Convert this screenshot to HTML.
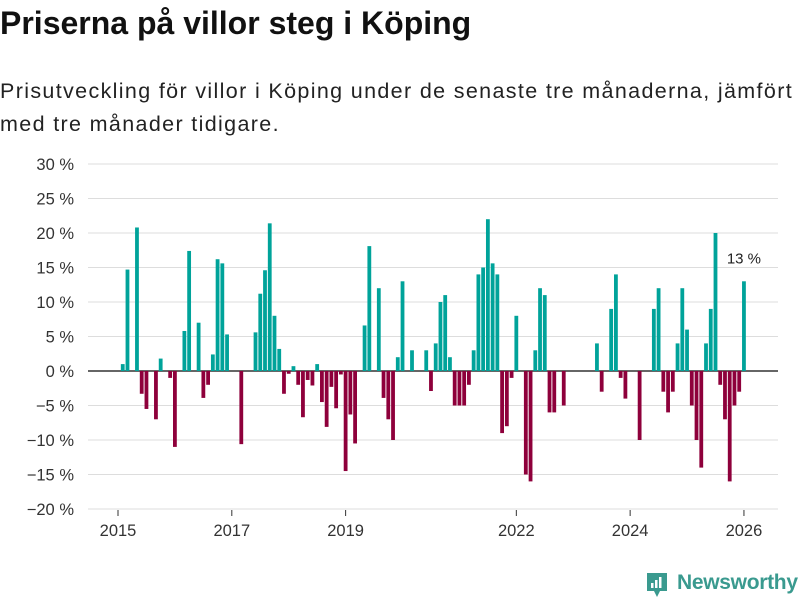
<!DOCTYPE html>
<html><head><meta charset="utf-8"><style>
body{margin:0;background:#fff;font-family:"Liberation Sans",sans-serif;}
#wrap{position:relative;width:800px;height:600px;overflow:hidden;}
h1{position:absolute;left:0;top:5px;margin:0;font-size:32px;font-weight:bold;color:#111;}
p.sub{position:absolute;left:0;top:75px;margin:0;font-size:21.5px;line-height:33px;color:#222;width:800px;letter-spacing:1.35px;white-space:nowrap;}
</style></head><body>
<div id="wrap">
<h1>Priserna på villor steg i Köping</h1>
<p class="sub">Prisutveckling för villor i Köping under de senaste tre månaderna, jämfört<br>med tre månader tidigare.</p>
<svg id="chart" width="800" height="600" style="position:absolute;left:0;top:0"></svg>
<div style="position:absolute;left:645px;top:571px;width:150px;height:28px;">
<svg width="24" height="28" style="position:absolute;left:0;top:0"><path d="M2 2h20v18h-7l-3 6-3-6H2z" fill="#3a9a8f"/><rect x="6" y="12" width="2.5" height="5" fill="#fff"/><rect x="10" y="9" width="2.5" height="8" fill="#fff"/><rect x="14" y="6" width="2.5" height="11" fill="#fff"/></svg>
<span style="position:absolute;left:32px;top:0;font-size:21px;color:#3a9a8f;font-weight:bold;letter-spacing:-0.3px">Newsworthy</span>
</div>
</div>
<script>
const yTicks=[30,25,20,15,10,5,0,-5,-10,-15,-20];
const xTickYears=[2015,2017,2019,2022,2024,2026];
const startYear=2015;
const values=[null,1,14.7,null,20.8,-3.3,-5.5,null,-7,1.8,null,-1,-11,null,5.8,17.4,null,7,-3.9,-2,2.4,16.2,15.6,5.3,null,null,-10.6,null,null,5.6,11.2,14.6,21.4,8,3.2,-3.3,-0.4,0.7,-2,-6.7,-1.3,-2.1,1,-4.5,-8.1,-2.3,-5.4,-0.5,-14.5,-6.3,-10.5,null,6.6,18.1,null,12,-3.9,-7,-10,2,13,null,3,null,null,3,-2.9,4,10,11,2,-5,-5,-5,-2,3,14,15,22,15.6,14,-9,-8,-1,8,null,-15,-16,3,12,11,-6,-6,null,-5,null,null,null,null,null,null,4,-3,null,9,14,-1,-4,null,null,-10,null,null,9,12,-3,-6,-3,4,12,6,-5,-10,-14,4,9,20,-2,-7,-16,-5,-3,13];
const lastLabel="13 %";
const svg=document.getElementById('chart');
const NS='http://www.w3.org/2000/svg';
const x0=118,pxMonth=4.742,y0=371,pxPct=6.9;
function xScale(m){return x0+m*pxMonth;}
function yScale(v){return y0-v*pxPct;}
function mk(t,a){const e=document.createElementNS(NS,t);for(const k in a)e.setAttribute(k,a[k]);svg.appendChild(e);return e;}
yTicks.forEach(v=>{
 const l=mk('line',{x1:88,x2:778,y1:yScale(v),y2:yScale(v),stroke:v===0?'#333':'#ddd','stroke-width':v===0?1.5:1});
 
 
 const t=mk('text',{x:74,y:yScale(v)+6,'text-anchor':'end','font-size':16.5,fill:'#333','font-family':'Liberation Sans, sans-serif'});
 t.textContent=(v<0?'\u2212'+(-v):v)+' %';
 
 
});
xTickYears.forEach(y=>{
 const x=xScale((y-startYear)*12);
 const l=mk('line',{x1:x,x2:x,y1:510,y2:516,stroke:'#333'});
 
 
 const t=mk('text',{x:x,y:536,'text-anchor':'middle','font-size':16.5,fill:'#333','font-family':'Liberation Sans, sans-serif'});
 t.textContent=y;
 
 
});
values.forEach((v,i)=>{
 if(v===null)return;
 const x=xScale(i)-1.9;
 const r=mk('rect',{x:x,width:3.8,y:v>=0?yScale(v):y0,height:Math.abs(v)*pxPct,fill:v>=0?'#00a39a':'#8e003b'});
 
 
});
const li=values.length-1;
const lt=mk('text',{x:xScale(li),y:yScale(values[li])-18,'text-anchor':'middle','font-size':15,fill:'#222',stroke:'#fff','stroke-width':3,'paint-order':'stroke','font-family':'Liberation Sans, sans-serif'});
lt.textContent=lastLabel;


</script>
</body></html>
